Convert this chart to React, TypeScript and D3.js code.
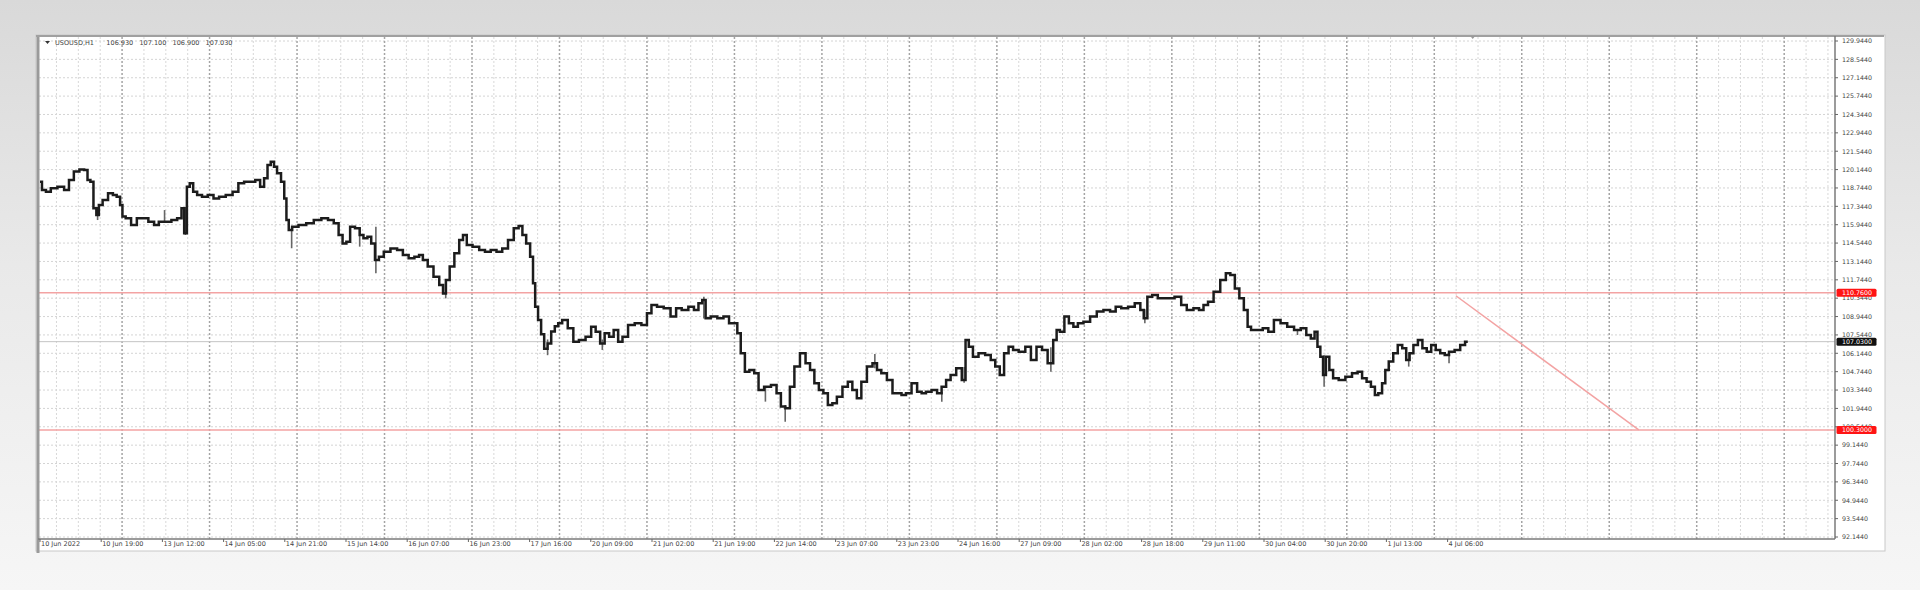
import React from "react";
import * as d3 from "d3";

// ---------- data ----------
const SYMBOL_TITLE = "USOUSD,H1";
const TITLE_OHLC = ["106.930", "107.100", "106.900", "107.030"];

// bar index (hours since first bar) and close price
const PRICE_BARS: number[] = [
  0, 1.1, 2.2, 3.8, 5.9, 7.5, 8.6, 10.2, 11.7, 12.8, 13.6, 14.4, 15.3, 16.0, 16.7, 18.1, 19.7, 20.8, 21.8, 22.7,
  23.1, 24.5, 26.1, 27.7, 29.3, 30.9, 32.5, 33.5, 35.7, 37.3, 38.9, 39.7, 40.4, 41.2, 42.0, 43.1, 44.2, 45.8, 47.4, 49.0,
  50.5, 52.7, 54.3, 55.9, 57.5, 59.0, 60.6, 61.7, 62.8, 63.6, 64.6, 65.4, 66.3, 67.6, 68.1, 68.8, 69.4, 70.7, 72.9, 75.0,
  77.1, 79.2, 80.8, 82.4, 83.5, 84.6, 85.6, 86.7, 88.3, 89.3, 90.4, 91.5, 92.5, 93.6, 94.7, 96.3, 98.4, 100.0, 101.6, 103.2,
  104.8, 105.8, 106.9, 108.5, 110.1, 111.7, 112.2, 113.3, 114.3, 115.9, 117.0, 118.0, 119.1, 121.2, 122.8, 124.4, 126.0, 127.6, 129.2, 130.8,
  132.4, 133.5, 134.5, 135.6, 136.7, 137.2, 137.9, 138.8, 139.6, 140.5, 141.5, 142.5, 143.5,
  144.4, 145.7, 147.5, 148.8, 150.6, 152.5, 153.7, 155.0, 156.2, 157.5, 158.7, 160.0, 161.2, 162.4, 164.3, 166.1, 168.0, 169.2, 170.5, 172.3,
  174.2, 176.1, 177.3, 179.2, 181.0, 182.3, 183.5, 184.4, 185.4, 187.2, 189.1, 190.6, 192.2, 193.4, 194.0, 195.3, 196.3, 197.8, 199.0, 200.2,
  202.1, 204.0, 205.2, 206.4, 207.7, 208.9, 210.2, 212.0, 213.3, 214.5, 215.7, 217.0, 218.2, 219.5, 220.7, 222.0, 223.8, 225.0, 226.3, 227.5,
  228.8, 230.6, 231.9, 233.1, 234.3, 236.2, 237.4, 238.7, 239.9, 241.2, 243.0, 244.3, 245.5, 246.7, 248.6, 249.8, 251.1, 252.3, 253.6, 255.4,
  256.7, 257.5, 258.5, 259.8, 261.6, 263.5, 264.7, 266.0, 267.2, 268.4, 269.7, 270.9, 272.8, 274.6, 275.9, 277.7, 279.0, 280.8, 282.1, 282.7,
  283.9, 285.2, 286.4, 287.7, 288.9, 290.8, 292.6, 294.5, 296.3, 298.2, 299.4, 301.3, 303.2, 305.0, 306.3, 306.9,
  308.3, 309.6, 311.4, 313.9, 316.4, 317.6, 319.5, 321.3, 322.6, 323.8, 325.1, 326.9, 328.8, 330.0, 331.3, 332.5, 333.8, 335.0, 335.9, 336.9,
  338.7, 340.6, 341.8, 343.7, 345.5, 347.4, 349.3, 351.1, 352.4, 353.6, 354.5, 355.2, 356.1, 356.7, 357.7, 358.6, 359.8, 361.7, 363.5, 365.4,
  366.6, 367.9, 369.1, 370.3, 371.3, 372.2, 373.4, 374.0, 375.3, 376.5, 377.8, 379.0, 380.0, 380.9, 382.1, 383.4, 384.6, 385.8, 387.1, 388.3,
  389.6, 390.8, 392.0, 393.9, 395.1, 396.6,
];
const PRICE_VALUES: number[] = [
  119.22, 118.59, 118.46, 118.72, 118.84, 118.59, 119.35, 119.99, 120.16, 120.11, 119.35, 119.22, 117.19, 116.68, 117.45, 117.83, 118.34, 118.21, 118.08, 117.45,
  116.56, 116.43, 115.92, 116.43, 116.43, 116.17, 115.92, 116.17, 116.17, 116.30, 116.43, 117.19, 115.29, 118.84, 119.10, 118.46, 118.21, 118.08, 118.21, 117.95,
  118.08, 118.21, 118.46, 119.10, 119.22, 119.22, 119.35, 118.84, 119.48, 120.49, 120.75, 120.37, 119.86, 119.22, 117.95, 116.30, 115.54, 115.79, 115.92, 116.05,
  116.30, 116.43, 116.30, 116.05, 115.16, 114.52, 114.65, 115.79, 115.67, 115.16, 114.91, 115.03, 114.52, 113.25, 113.51, 113.89, 114.14, 114.01, 113.63, 113.38,
  113.51, 113.63, 113.25, 112.75, 111.98, 111.35, 110.71, 111.73, 112.75, 113.76, 114.78, 115.16, 114.40, 114.27, 114.01, 113.89, 114.01, 113.89, 114.14, 114.78,
  115.67, 115.85, 115.16, 114.52, 113.51, 111.48, 109.70, 108.68, 107.60, 106.50, 106.90, 107.80, 108.20,
  108.43, 108.68, 108.05, 107.03, 107.16, 107.41, 108.17, 107.79, 106.90, 107.67, 107.41, 107.92, 107.03, 107.41, 108.30, 108.43, 108.30, 109.19, 109.83, 109.70,
  109.57, 108.94, 109.57, 109.44, 109.70, 109.44, 109.95, 110.21, 108.81, 108.94, 108.81, 108.94, 108.43, 108.43, 107.67, 106.14, 104.74, 104.87, 104.62, 103.35,
  103.60, 103.73, 103.09, 102.08, 101.95, 103.60, 105.13, 106.14, 105.38, 104.87, 103.86, 103.35, 103.09, 102.20, 102.33, 102.84, 103.60, 103.98, 103.35, 102.71,
  103.98, 105.13, 105.38, 104.87, 104.62, 104.11, 103.09, 103.09, 102.96, 103.09, 103.86, 103.22, 103.09, 103.22, 103.35, 103.09, 103.60, 104.11, 104.49, 105.00,
  104.11, 107.16, 106.65, 105.89, 106.14, 106.01, 105.63, 105.13, 104.49, 106.14, 106.65, 106.40, 106.27, 106.65, 105.63, 106.65, 106.40, 105.38, 107.16, 107.92,
  107.79, 108.94, 108.43, 108.17, 108.43, 108.55, 108.94, 109.32, 109.44, 109.32, 109.70, 109.57, 109.70, 109.95, 109.44, 108.81,
  110.46, 110.59, 110.33, 110.33, 110.46, 109.82, 109.44, 109.57, 109.44, 109.82, 110.08, 110.84, 111.73, 112.24, 112.11, 111.09, 110.33, 109.44, 108.17, 107.92,
  107.92, 108.05, 107.79, 108.68, 108.43, 108.17, 107.92, 108.05, 107.54, 107.28, 107.79, 106.65, 105.89, 104.49, 105.89, 104.87, 104.24, 104.11, 104.36, 104.62,
  104.74, 104.24, 103.98, 103.60, 102.97, 103.09, 103.86, 104.87, 105.51, 106.14, 106.78, 106.52, 105.63, 106.14, 106.78, 107.16, 106.52, 106.27, 106.78, 106.40,
  106.14, 106.01, 106.27, 106.40, 106.78, 107.03,
];

// high/low wicks that stick out of the close line: [bar, low, high]
const WICKS: [number, number, number][] = [
  [16.0, 116.3, 117.2], [34.6, 116.1, 117.06], [40.4, 115.16, 117.3], [69.9, 114.15, 115.8],
  [88.8, 114.27, 115.7], [93.3, 112.24, 115.79], [112.7, 110.33, 111.6], [141.0, 106.0, 107.2],
  [156.2, 106.4, 107.2], [184.4, 108.8, 110.46], [201.5, 102.46, 103.6], [207.0, 100.93, 102.2],
  [231.9, 105.0, 106.09], [250.5, 102.46, 103.2], [256.7, 103.9, 105.1], [280.8, 104.74, 106.6],
  [306.9, 108.43, 109.5], [349.3, 107.54, 108.0], [356.7, 103.6, 106.0], [380.2, 105.13, 106.2],
  [391.4, 105.38, 106.3],
];

const Y_TICKS = [
  "129.9440", "128.5440", "127.1440", "125.7440", "124.3440", "122.9440", "121.5440", "120.1440",
  "118.7440", "117.3440", "115.9440", "114.5440", "113.1440", "111.7440", "110.3440", "108.9440",
  "107.5440", "106.1440", "104.7440", "103.3440", "101.9440", "100.5440", "99.1440", "97.7440",
  "96.3440", "94.9440", "93.5440", "92.1440",
];

const X_LABELS = [
  "10 Jun 2022", "10 Jun 19:00", "13 Jun 12:00", "14 Jun 05:00", "14 Jun 21:00", "15 Jun 14:00",
  "16 Jun 07:00", "16 Jun 23:00", "17 Jun 16:00", "20 Jun 09:00", "21 Jun 02:00", "21 Jun 19:00",
  "22 Jun 14:00", "23 Jun 07:00", "23 Jun 23:00", "24 Jun 16:00", "27 Jun 09:00", "28 Jun 02:00",
  "28 Jun 18:00", "29 Jun 11:00", "30 Jun 04:00", "30 Jun 20:00", "1 Jul 13:00", "4 Jul 06:00",
];
const BARS_PER_LABEL = 17;

const LEVEL_HIGH = 110.76;
const LEVEL_LOW = 100.3;
const CURRENT_PRICE = 107.03;
const TREND_LINE: [number, number][] = [[393.3, 110.53], [444.1, 100.3]];

// ---------- layout ----------
const W = 1920;
const H = 590;
const PLOT = { left: 39, right: 1835, top: 37, bottom: 539 };
const FONT = "'DejaVu Sans', 'Liberation Sans', sans-serif";

export default function App() {
  const x = d3.scaleLinear().domain([0, 500]).range([40, 1840]);
  const y = d3.scaleLinear().domain([92.144, 129.944]).range([537, 41]);

  const pts: [number, number][] = PRICE_BARS.map((b, i) => [b, PRICE_VALUES[i]]);
  const line = d3
    .line<[number, number]>()
    .x((d) => x(d[0]))
    .y((d) => y(d[1]))
    .curve(d3.curveStep);

  // grid positions (in bar units)
  const majorGrid: number[] = [];
  const minorGrid: number[] = [];
  for (let n = -1; n < 22; n++) {
    const b = 22.8 + 24.3 * n;
    majorGrid.push(b);
    for (let j = 1; j < 4; j++) minorGrid.push(b + 6.075 * j);
  }
  const inPlot = (b: number) => x(b) > PLOT.left + 1 && x(b) < PLOT.right - 1;

  const tickVals = Y_TICKS.map((t) => parseFloat(t));

  return (
    <svg width={W} height={H} style={{ position: "absolute", left: 0, top: 0 }} xmlns="http://www.w3.org/2000/svg">
      <defs>
        <linearGradient id="bg" x1="0" y1="0" x2="0" y2="1">
          <stop offset="0" stopColor="#d9d9d9" />
          <stop offset="0.45" stopColor="#e9e9e9" />
          <stop offset="1" stopColor="#f6f6f6" />
        </linearGradient>
        <clipPath id="plotClip">
          <rect x={PLOT.left} y={PLOT.top} width={PLOT.right - PLOT.left} height={PLOT.bottom - PLOT.top} />
        </clipPath>
        <filter id="blur" x="-5%" y="-5%" width="110%" height="110%">
          <feGaussianBlur stdDeviation="0.4" />
        </filter>
      </defs>

      <rect x={0} y={0} width={W} height={H} fill="url(#bg)" />

      {/* panel */}
      <rect x={36} y={35} width={1849} height={516} fill="#ffffff" stroke="#c8c8c8" strokeWidth={1} />

      <g clipPath="url(#plotClip)">
        {/* horizontal grid */}
        {tickVals.map((v, i) => (
          <line key={"h" + i} x1={PLOT.left} x2={PLOT.right} y1={y(v)} y2={y(v)} stroke="#d4d4d4" strokeWidth={1} strokeDasharray="2,2" />
        ))}
        {/* vertical grid */}
        {minorGrid.filter(inPlot).map((b, i) => (
          <line key={"mi" + i} x1={x(b)} x2={x(b)} y1={PLOT.top} y2={PLOT.bottom} stroke="#d8d8d8" strokeWidth={1} strokeDasharray="2,2" />
        ))}
        {majorGrid.filter(inPlot).map((b, i) => (
          <line key={"ma" + i} x1={x(b)} x2={x(b)} y1={PLOT.top} y2={PLOT.bottom} stroke="#a4a4a4" strokeWidth={1.5} strokeDasharray="2,2" />
        ))}

        {/* current price line */}
        <line x1={PLOT.left} x2={PLOT.right} y1={y(CURRENT_PRICE)} y2={y(CURRENT_PRICE)} stroke="#c4c4c4" strokeWidth={1} />

        {/* levels */}
        <line x1={PLOT.left} x2={PLOT.right} y1={y(LEVEL_HIGH)} y2={y(LEVEL_HIGH)} stroke="#f3a3a3" strokeWidth={1.6} />
        <line x1={PLOT.left} x2={PLOT.right} y1={y(LEVEL_LOW)} y2={y(LEVEL_LOW)} stroke="#f3a3a3" strokeWidth={1.6} />
        <line
          x1={x(TREND_LINE[0][0])} y1={y(TREND_LINE[0][1])}
          x2={x(TREND_LINE[1][0])} y2={y(TREND_LINE[1][1])}
          stroke="#f3a3a3" strokeWidth={1.5}
        />

        {/* wicks + price */}
        <g filter="url(#blur)">
          {WICKS.map((w, i) => (
            <line key={"w" + i} x1={x(w[0])} x2={x(w[0])} y1={y(w[1])} y2={y(w[2])} stroke="#666" strokeWidth={1.6} />
          ))}
          <path d={line(pts) || ""} fill="none" stroke="#1e1e1e" strokeWidth={2.5} strokeLinejoin="miter" />
        </g>
      </g>

      {/* frame */}
      <line x1={38} x2={38} y1={35} y2={553} stroke="#9a9a9a" strokeWidth={3} />
      <line x1={36} x2={1884} y1={36} y2={36} stroke="#a0a0a0" strokeWidth={2} />
      <line x1={PLOT.right} x2={PLOT.right} y1={36} y2={PLOT.bottom} stroke="#7a7a7a" strokeWidth={1.5} />
      <line x1={38} x2={PLOT.right} y1={PLOT.bottom} y2={PLOT.bottom} stroke="#7a7a7a" strokeWidth={1.5} />

      {/* title */}
      <path d="M45,41 L50,41 L47.5,44 Z" fill="#333" />
      <text x={55} y={44.5} fontFamily={FONT} fontSize={6.5} fill="#444" xmlSpace="preserve">
        {SYMBOL_TITLE + "      " + TITLE_OHLC.join("   ")}
      </text>

      {/* chart shift marker */}
      <path d={`M${x(397) + 1},36 L${x(397) + 6},36 L${x(397) + 3.5},39 Z`} fill="#999" />

      {/* y axis labels */}
      {Y_TICKS.map((t, i) => (
        <g key={"yt" + i}>
          <line x1={PLOT.right} x2={PLOT.right + 3} y1={y(tickVals[i])} y2={y(tickVals[i])} stroke="#666" strokeWidth={1} />
          <text x={1842} y={y(tickVals[i]) + 2.3} fontFamily={FONT} fontSize={6.3} fill="#444">{t}</text>
        </g>
      ))}

      {/* price tags */}
      {[
        { v: LEVEL_HIGH, fill: "#ff1414" },
        { v: LEVEL_LOW, fill: "#ff1414" },
        { v: CURRENT_PRICE, fill: "#111111" },
      ].map((tag, i) => (
        <g key={"tag" + i}>
          <rect x={1836.5} y={y(tag.v) - 4} width={40} height={8} rx={1.5} fill={tag.fill} />
          <text x={1842} y={y(tag.v) + 2.3} fontFamily={FONT} fontSize={6.3} fill="#ffffff">{tag.v.toFixed(4)}</text>
        </g>
      ))}

      {/* x axis labels */}
      {X_LABELS.map((l, i) => {
        const xb = x(i * BARS_PER_LABEL);
        return (
          <g key={"xl" + i}>
            <line x1={xb} x2={xb} y1={PLOT.bottom} y2={PLOT.bottom + 3} stroke="#666" strokeWidth={1} />
            <text x={xb + 1} y={545.5} fontFamily={FONT} fontSize={6.5} fill="#444">{l}</text>
          </g>
        );
      })}
    </svg>
  );
}
